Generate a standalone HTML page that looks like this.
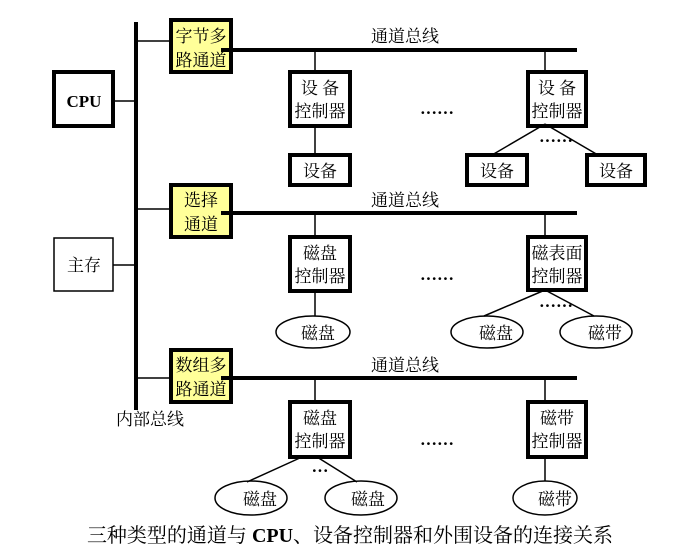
<!DOCTYPE html>
<html><head><meta charset="utf-8"><style>body{margin:0;background:#fff}svg{display:block}text{font-family:"Liberation Serif","Noto Serif CJK SC",serif;font-size:17px;fill:#000}</style></head><body>
<svg width="690" height="556" viewBox="0 0 690 556">
<g stroke="#000" fill="none">
<line x1="136" y1="22" x2="136" y2="410" stroke-width="4"/>
<line x1="113" y1="101" x2="136" y2="101" stroke-width="1.5"/>
<line x1="113" y1="265" x2="136" y2="265" stroke-width="1.5"/>
<line x1="136" y1="41" x2="170" y2="41" stroke-width="1.5"/>
<line x1="136" y1="209" x2="170" y2="209" stroke-width="1.5"/>
<line x1="136" y1="378" x2="170" y2="378" stroke-width="1.5"/>
<line x1="221" y1="50" x2="577" y2="50" stroke-width="4"/>
<line x1="221" y1="213" x2="577" y2="213" stroke-width="4"/>
<line x1="221" y1="378" x2="577" y2="378" stroke-width="4"/>
<line x1="315" y1="50" x2="315" y2="72" stroke-width="1.5"/>
<line x1="545" y1="50" x2="545" y2="72" stroke-width="1.5"/>
<line x1="315" y1="126" x2="315" y2="155" stroke-width="1.5"/>
<line x1="545" y1="124" x2="492" y2="155" stroke-width="1.5"/>
<line x1="545" y1="124" x2="598" y2="155" stroke-width="1.5"/>
<line x1="315" y1="213" x2="315" y2="237" stroke-width="1.5"/>
<line x1="545" y1="213" x2="545" y2="237" stroke-width="1.5"/>
<line x1="315" y1="291" x2="315" y2="316" stroke-width="1.5"/>
<line x1="545" y1="290" x2="484" y2="316" stroke-width="1.5"/>
<line x1="545" y1="290" x2="594" y2="316" stroke-width="1.5"/>
<line x1="315" y1="378" x2="315" y2="402" stroke-width="1.5"/>
<line x1="545" y1="378" x2="545" y2="402" stroke-width="1.5"/>
<line x1="302" y1="457" x2="247" y2="482" stroke-width="1.5"/>
<line x1="317" y1="457" x2="357" y2="482" stroke-width="1.5"/>
<line x1="545" y1="457" x2="545" y2="481" stroke-width="1.5"/>
<rect x="54" y="72" width="59" height="54" stroke-width="4"/>
<rect x="54" y="238" width="59" height="53" stroke-width="1.5"/>
<rect x="171" y="20" width="60" height="52" stroke-width="4" fill="#ffff99"/>
<rect x="171" y="185" width="60" height="52" stroke-width="4" fill="#ffff99"/>
<rect x="171" y="350" width="60" height="52" stroke-width="4" fill="#ffff99"/>
<line x1="221" y1="50" x2="240" y2="50" stroke-width="4"/>
<line x1="221" y1="213" x2="240" y2="213" stroke-width="4"/>
<line x1="221" y1="378" x2="240" y2="378" stroke-width="4"/>
<rect x="290" y="72" width="60" height="54" stroke-width="4"/>
<rect x="290" y="155" width="60" height="30" stroke-width="4"/>
<rect x="528" y="72" width="58" height="54" stroke-width="4"/>
<rect x="467" y="155" width="60" height="30" stroke-width="4"/>
<rect x="587" y="155" width="58" height="30" stroke-width="4"/>
<rect x="290" y="237" width="60" height="54" stroke-width="4"/>
<rect x="528" y="237" width="58" height="53" stroke-width="4"/>
<rect x="290" y="402" width="60" height="55" stroke-width="4"/>
<rect x="528" y="402" width="58" height="55" stroke-width="4"/>
<ellipse cx="313" cy="332" rx="37" ry="16" stroke-width="1.5"/>
<ellipse cx="487" cy="332" rx="36" ry="16" stroke-width="1.5"/>
<ellipse cx="596" cy="332" rx="36" ry="16" stroke-width="1.5"/>
<ellipse cx="251" cy="498" rx="36" ry="17" stroke-width="1.5"/>
<ellipse cx="361" cy="498" rx="36" ry="17" stroke-width="1.5"/>
<ellipse cx="545" cy="498" rx="32" ry="17" stroke-width="1.5"/>
</g>
<g text-anchor="middle">
<text x="84" y="107" font-weight="bold">CPU</text>
<text x="84" y="271">主存</text>
<text x="201" y="42">字节多</text><text x="201" y="66">路通道</text>
<text x="201" y="206">选择</text><text x="201" y="230">通道</text>
<text x="201" y="371">数组多</text><text x="201" y="395">路通道</text>
<text x="405" y="42">通道总线</text>
<text x="405" y="206">通道总线</text>
<text x="405" y="371">通道总线</text>
<text x="320" y="94">设 备</text><text x="320" y="117">控制器</text>
<text x="320" y="177">设备</text>
<text x="557" y="94">设 备</text><text x="557" y="117">控制器</text>
<text x="497" y="177">设备</text><text x="616" y="177">设备</text>
<text x="320" y="259">磁盘</text><text x="320" y="282">控制器</text>
<text x="557" y="259">磁表面</text><text x="557" y="282">控制器</text>
<text x="320" y="424">磁盘</text><text x="320" y="447">控制器</text>
<text x="557" y="424">磁带</text><text x="557" y="447">控制器</text>
<text x="318" y="339">磁盘</text>
<text x="496" y="339">磁盘</text><text x="605" y="339">磁带</text>
<text x="260" y="505">磁盘</text><text x="368" y="505">磁盘</text><text x="555" y="505">磁带</text>
<text x="437" y="118" font-weight="bold">······</text>
<text x="556" y="146" font-weight="bold">······</text>
<text x="437" y="284" font-weight="bold">······</text>
<text x="556" y="311" font-weight="bold">······</text>
<text x="437" y="449" font-weight="bold">······</text>
<text x="320" y="476" font-weight="bold">···</text>
<text x="150" y="425">内部总线</text>
<text x="350" y="542" style="font-size:20px">三种类型的通道与 <tspan font-weight="bold">CPU</tspan>、设备控制器和外围设备的连接关系</text>
</g>
</svg>
</body></html>
